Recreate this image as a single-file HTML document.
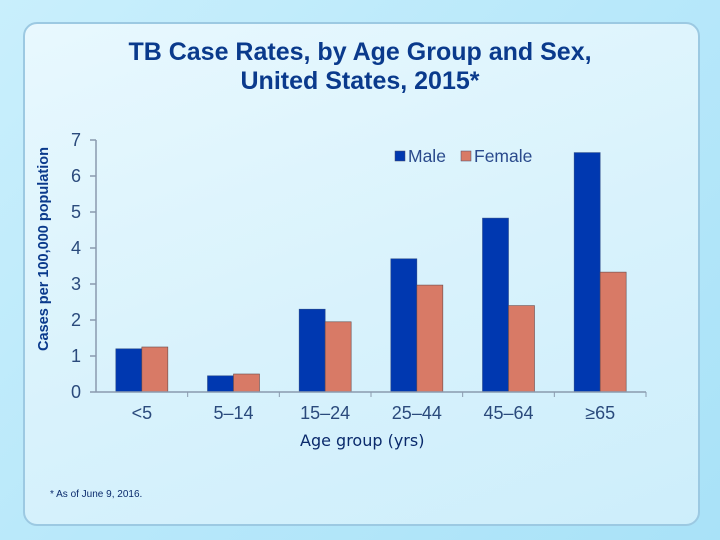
<!DOCTYPE html>
<html><head><meta charset="utf-8"><style>
html,body{margin:0;padding:0}
body{width:720px;height:540px;overflow:hidden;background:linear-gradient(135deg,#c9effc,#b8e8fa 50%,#a9e2f8);font-family:"Liberation Sans",sans-serif;position:relative}
#panel{position:absolute;left:23px;top:22px;width:673px;height:500px;border:2px solid #9cc9e2;border-radius:14px;background:linear-gradient(160deg,#e8f8fe,#d8f2fc 55%,#cdeefb)}
.t{position:absolute;color:#0a3a8c;font-weight:bold}
</style></head><body>
<div id="panel"></div>
<div class="t" style="left:60px;top:38px;width:600px;text-align:center;font-size:25px;line-height:29px">TB Case Rates, by Age Group and Sex,<br>United States, 2015*</div>
<div class="t" style="left:44px;top:249px;font-size:14.5px;transform:translate(-50%,-50%) rotate(-90deg);white-space:nowrap">Cases per 100,000 population</div>
<div class="t" style="left:300px;top:431px;font-size:16px;font-weight:normal;color:#0a2a6c;font-family:'DejaVu Sans',sans-serif">Age group (yrs)</div>
<div style="position:absolute;left:50px;top:489px;font-size:10px;color:#0a2a6c">* As of June 9, 2016.</div>
<svg id="chart" width="720" height="540" style="position:absolute;left:0;top:0"></svg>
<script>
const categories=["<5","5–14","15–24","25–44","45–64","≥65"];
const maleValues=[1.2,0.45,2.3,3.7,4.83,6.65];
const femaleValues=[1.25,0.5,1.95,2.97,2.4,3.33];
const yTicks=[0,1,2,3,4,5,6,7];
const svg=document.getElementById('chart');
const NS='http://www.w3.org/2000/svg';
const x0=96,x1=646,yBase=392,yTop=140,yMax=7;
function y(v){return yBase-(v/yMax)*(yBase-yTop);}
const gw=(x1-x0)/categories.length;
function gx(i){return x0+gw*i;}
function mk(tag,attrs){const e=document.createElementNS(NS,tag);for(const k in attrs)e.setAttribute(k,attrs[k]);svg.appendChild(e);return e;}
let e=mk('line',{x1:x0,y1:yTop,x2:x0,y2:yBase,stroke:'#8a9aae','stroke-width':1.5});


yTicks.forEach(t=>{
 let l=mk('line',{x1:x0-6,y1:y(t),x2:x0,y2:y(t),stroke:'#8a9aae','stroke-width':1.5});
 
 
 let tx=mk('text',{x:x0-20,y:y(t)+6,'text-anchor':'middle','font-size':18,fill:'#2a4a7c','font-family':'Liberation Sans, sans-serif'});
 tx.textContent=t;
 
 
});
categories.forEach((c,i)=>{
 const cx=gx(i)+gw/2,bw=26;
 let m=mk('rect',{x:cx-bw,y:y(maleValues[i]),width:bw,height:yBase-y(maleValues[i]),fill:'#0038b0',stroke:'#2a4a8a','stroke-width':0.6});
 
 
 let f=mk('rect',{x:cx,y:y(femaleValues[i]),width:bw,height:yBase-y(femaleValues[i]),fill:'#d87a66',stroke:'#6a4a4a','stroke-width':0.6});
 
 
 let tk=mk('line',{x1:gx(i+1),y1:yBase,x2:gx(i+1),y2:yBase+5,stroke:'#8a9aae','stroke-width':1});
 
 
 let t=mk('text',{x:cx,y:yBase+27,'text-anchor':'middle','font-size':18,fill:'#2a4a7c','font-family':'Liberation Sans, sans-serif'});
 t.textContent=c;
 
 
});
e=mk('line',{x1:x0,y1:yBase,x2:x1,y2:yBase,stroke:'#8a9aae','stroke-width':1.5});


const lg=[['Male','#0038b0',395],['Female','#d87a66',461]];
lg.forEach(([n,c,lx])=>{
 let r=mk('rect',{x:lx,y:151,width:10,height:10,fill:c,stroke:'#4a4a6a','stroke-width':0.5});
 
 
 let t=mk('text',{x:lx+13,y:162,'font-size':17.5,fill:'#2a4a8c','font-family':'Liberation Sans, sans-serif'});
 t.textContent=n;
 
 
});
</script>
</body></html>
